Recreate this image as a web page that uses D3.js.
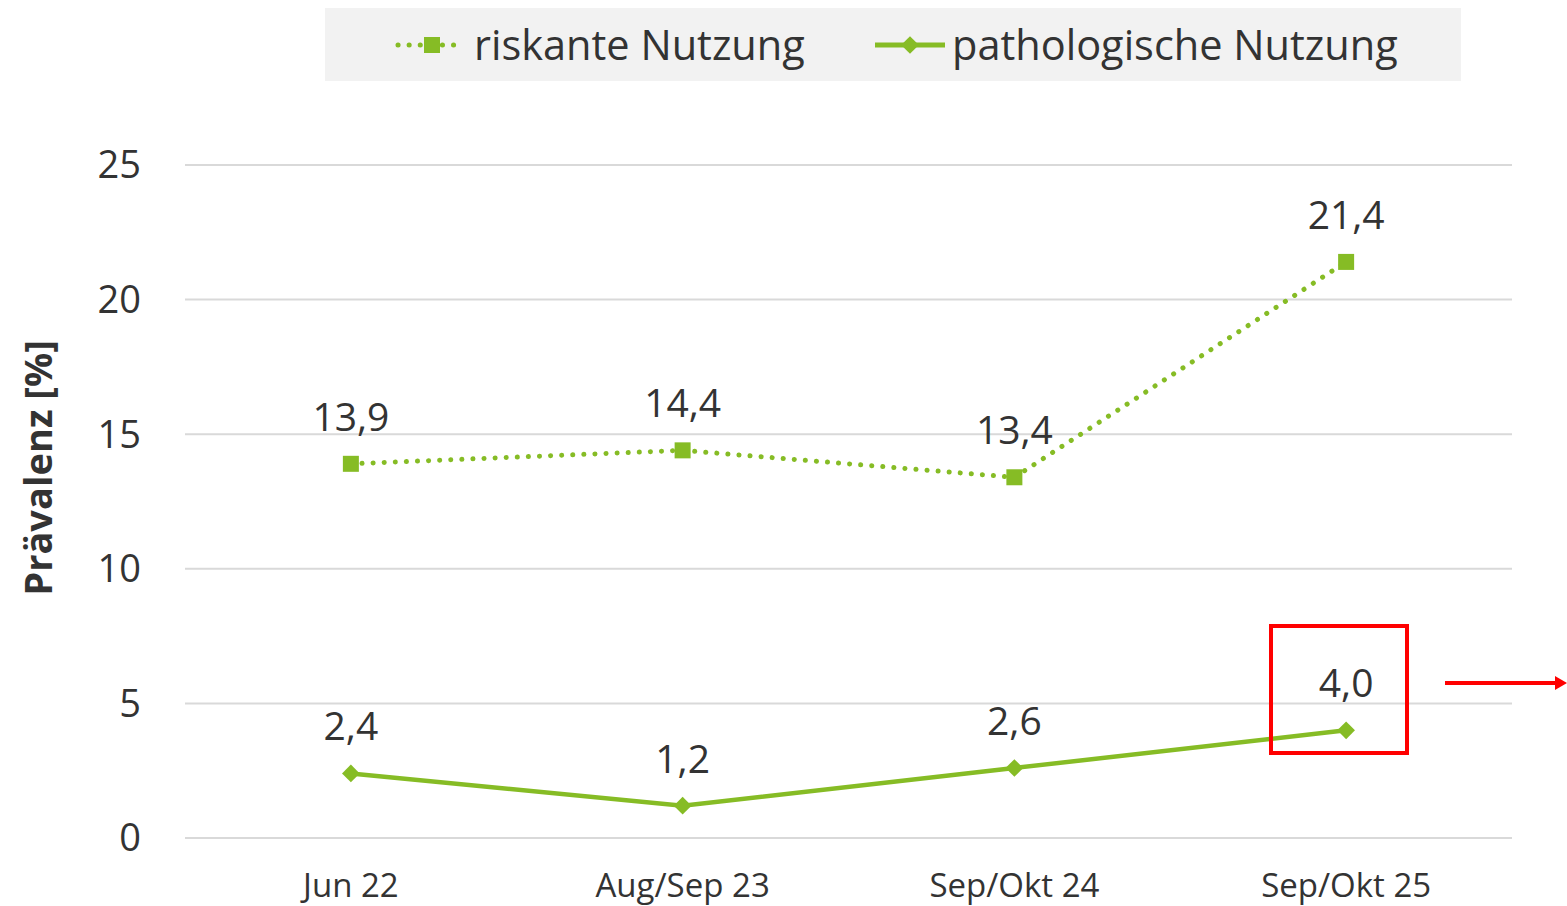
<!DOCTYPE html>
<html>
<head>
<meta charset="utf-8">
<script src="https://cdn.jsdelivr.net/npm/d3@7"></script>
<style>
  body { margin: 0; background: #fff; }
  text { font-family: "Open Sans", "Noto Sans", sans-serif; fill: #333; }
</style>
</head>
<body>
<div class="chart"></div>
<script>
const categories = ["Jun 22", "Aug/Sep 23", "Sep/Okt 24", "Sep/Okt 25"];
const riskant = [13.9, 14.4, 13.4, 21.4];
const patho = [2.4, 1.2, 2.6, 4.0];
const yTicks = [0, 5, 10, 15, 20, 25];
const seriesNames = ["riskante Nutzung", "pathologische Nutzung"];

const width = 1567, height = 906;
const green = "#86bc25";
const fmt = d => d.toFixed(1).replace(".", ",");

const svg = d3.select(".chart").append("svg")
    .attr("width", width)
    .attr("height", height);

const x = d3.scalePoint().domain(categories).range([185, 1512]).padding(0.5);
const y = d3.scaleLinear().domain([0, 25]).range([838, 165]);

// gridlines
svg.selectAll(".grid")
    .data(yTicks)
    .enter().append("line")
    .attr("x1", 185).attr("x2", 1512)
    .attr("y1", d => y(d)).attr("y2", d => y(d))
    .attr("stroke", "#d9d9d9").attr("stroke-width", 2);

// y tick labels
svg.selectAll(".ytick")
    .data(yTicks)
    .enter().append("text")
    .attr("x", 141).attr("y", d => y(d))
    .attr("dy", "0.35em")
    .attr("text-anchor", "end")
    .attr("font-size", 38)
    .text(d => d);

// x labels
svg.selectAll(".xtick")
    .data(categories)
    .enter().append("text")
    .attr("x", d => x(d)).attr("y", 897)
    .attr("text-anchor", "middle")
    .attr("font-size", 33)
    .text(d => d);

// axis title
svg.append("text")
    .attr("transform", "translate(52,468) rotate(-90)")
    .attr("text-anchor", "middle")
    .attr("font-size", 38)
    .attr("font-weight", "bold")
    .text("Prävalenz [%]");

const line = d3.line().x((d, i) => x(categories[i])).y(d => y(d));

svg.append("path").datum(riskant)
    .attr("d", line).attr("fill", "none")
    .attr("stroke", green).attr("stroke-width", 5)
    .attr("stroke-linecap", "round")
    .attr("stroke-dasharray", "0.1 11");

svg.append("path").datum(patho)
    .attr("d", line).attr("fill", "none")
    .attr("stroke", green).attr("stroke-width", 4.5);

svg.selectAll(".sq").data(riskant).enter().append("rect")
    .attr("x", (d, i) => x(categories[i]) - 8)
    .attr("y", d => y(d) - 8)
    .attr("width", 16).attr("height", 16)
    .attr("fill", green);

const diamond = d3.symbol().type(d3.symbolDiamond2).size(200);
svg.selectAll(".dm").data(patho).enter().append("path")
    .attr("d", diamond)
    .attr("transform", (d, i) => `translate(${x(categories[i])},${y(d)})`)
    .attr("fill", green);

// data labels
svg.selectAll(".lr").data(riskant).enter().append("text")
    .attr("x", (d, i) => x(categories[i])).attr("y", d => y(d) - 33)
    .attr("text-anchor", "middle").attr("font-size", 39)
    .text(fmt);
svg.selectAll(".lp").data(patho).enter().append("text")
    .attr("x", (d, i) => x(categories[i])).attr("y", d => y(d) - 33)
    .attr("text-anchor", "middle").attr("font-size", 39)
    .text(fmt);

// legend
svg.append("rect").attr("x", 325).attr("y", 8).attr("width", 1136).attr("height", 73)
    .attr("fill", "#f2f2f2");
svg.append("line").attr("x1", 398).attr("x2", 458).attr("y1", 45).attr("y2", 45)
    .attr("stroke", green).attr("stroke-width", 5).attr("stroke-linecap", "round")
    .attr("stroke-dasharray", "0.1 11");
svg.append("rect").attr("x", 424).attr("y", 37).attr("width", 16).attr("height", 16).attr("fill", green);
svg.append("text").attr("x", 474).attr("y", 45).attr("dy", "0.35em").attr("font-size", 41.5)
    .text(seriesNames[0]);
svg.append("line").attr("x1", 875).attr("x2", 945).attr("y1", 45).attr("y2", 45)
    .attr("stroke", green).attr("stroke-width", 5);
svg.append("path").attr("d", diamond).attr("transform", "translate(910,45)").attr("fill", green);
svg.append("text").attr("x", 952).attr("y", 45).attr("dy", "0.35em").attr("font-size", 41.5)
    .text(seriesNames[1]);

// highlight box and arrow
svg.append("rect").attr("x", 1271).attr("y", 626).attr("width", 136).attr("height", 127)
    .attr("fill", "none").attr("stroke", "#ff0000").attr("stroke-width", 4);
svg.append("line").attr("x1", 1445).attr("x2", 1558).attr("y1", 683).attr("y2", 683)
    .attr("stroke", "#ff0000").attr("stroke-width", 4);
svg.append("path").attr("d", "M1567,683 L1555,676 L1555,690 Z").attr("fill", "#ff0000");
</script>
</body>
</html>
